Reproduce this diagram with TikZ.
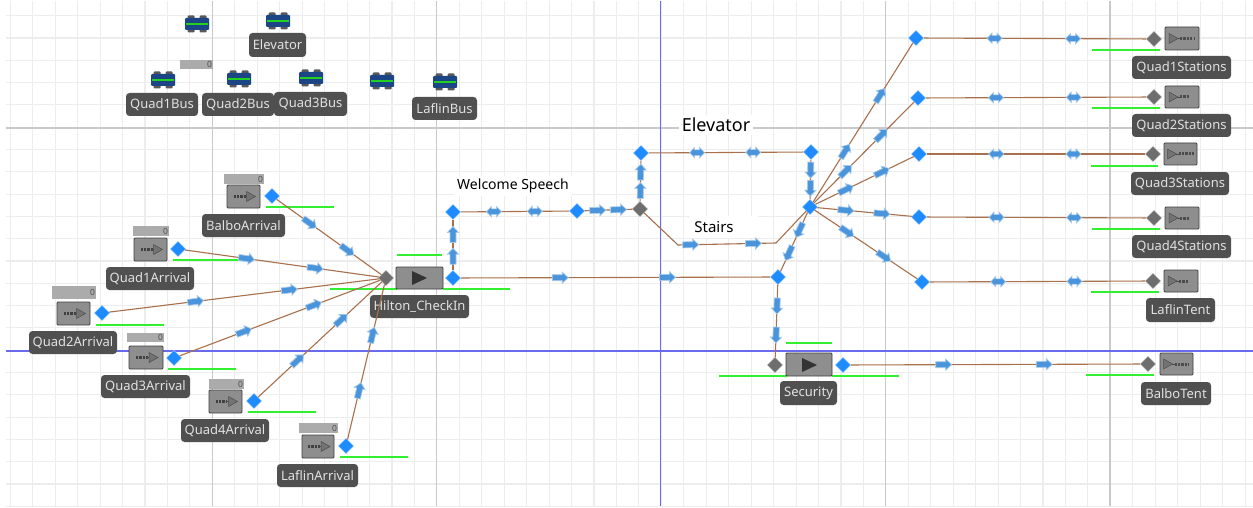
\documentclass[tikz,border=0pt]{standalone}
\usepackage{fontspec}
\setmainfont{Noto Sans}
\usetikzlibrary{shapes.geometric,decorations.markings}
\definecolor{gridminor}{HTML}{EDEDED}
\definecolor{gridmajor}{HTML}{C9C9C9}
\definecolor{axisblue}{HTML}{6A6AEE}
\definecolor{linkbrown}{HTML}{A8704C}
\definecolor{nodeblue}{HTML}{1E8CFF}
\definecolor{nodegray}{HTML}{6E6E6E}
\definecolor{flowblue}{HTML}{4A94DC}
\definecolor{flowedge}{HTML}{A8CBEA}
\definecolor{labelbg}{HTML}{505050}
\definecolor{labeltx}{HTML}{E2E2E2}
\definecolor{boxfill}{HTML}{8E8E8E}
\definecolor{barfill}{HTML}{ABABAB}
\definecolor{busblue}{HTML}{1B4585}
\definecolor{busgreen}{HTML}{22D022}
\definecolor{statgreen}{HTML}{30F030}
\tikzset{
  x=1pt,y=-1pt,
  bluenode/.style={diamond,aspect=1,fill=nodeblue,draw=white!70!nodeblue,line width=.4pt,minimum size=15.5pt,inner sep=0pt},
  graynode/.style={diamond,aspect=1,fill=nodegray,draw=white!60!nodegray,line width=.4pt,minimum size=15.5pt,inner sep=0pt},
  link/.style={draw=linkbrown,line width=1.1pt},
  statline/.style={draw=statgreen,line width=1.4pt},
  tag/.style={fill=labelbg,rounded corners=3.5pt,text=labeltx,inner sep=0pt,font=\fontsize{13}{15}\selectfont},
  boxnode/.style={draw=black!75,fill=boxfill,line width=.9pt,rounded corners=1pt,inner sep=0pt},
  barnode/.style={fill=barfill,inner sep=0pt,text=black!70,font=\fontsize{8.5}{9}\selectfont,align=right},
  caption/.style={fill=white,inner sep=3pt,text=black},
}
\newcommand\ETag[6]{\node[tag,minimum width={(#4-#2)*1pt},minimum height={(#5-#3)*1pt}] (#1) at ({(#2+#4)/2},{(#3+#5)/2}) {#6};}
\newcommand\EBox[5]{\node[boxnode,minimum width={(#4-#2)*1pt},minimum height={(#5-#3)*1pt}] (#1) at ({(#2+#4)/2},{(#3+#5)/2}) {};}
\newcommand\ECount[5]{\node[barnode,minimum width={(#4-#2)*1pt},minimum height={(#5-#3)*1pt},text width={(#4-#2-2)*1pt}] (#1) at ({(#2+#4)/2},{(#3+#5)/2}) {0};}
\newcommand\EStat[3]{\draw[statline] (#1,#3) -- (#2,#3);}
\newcommand\SingleMark{\fill[flowblue,draw=flowedge,line width=.7pt] (-8,-3) -- (2,-3) -- (2,-5.6) -- (8,0) -- (2,5.6) -- (2,3) -- (-8,3) -- cycle;}
\newcommand\DoubleMark{\fill[flowblue,draw=flowedge,line width=.7pt] (-7.5,0) -- (-2.5,-5.2) -- (-2.5,-2.8) -- (2.5,-2.8) -- (2.5,-5.2) -- (7.5,0) -- (2.5,5.2) -- (2.5,2.8) -- (-2.5,2.8) -- (-2.5,5.2) -- cycle;}
\newcommand\EMk[4]{\path[postaction={decorate,decoration={markings,mark=at position #3 with {#4}}}] (#1.center) -- (#2.center);}
\newcommand\EOne[2]{\draw[link] (#1) -- (#2); \EMk{#1}{#2}{.33}{\SingleMark} \EMk{#1}{#2}{.66}{\SingleMark}}
\newcommand\ETwo[2]{\draw[link] (#1) -- (#2); \EMk{#1}{#2}{.33}{\DoubleMark} \EMk{#1}{#2}{.66}{\DoubleMark}}
\newcommand\SrcIcon[3]{\draw[black!75,line width=3pt,dash pattern=on 2.2pt off 1.2pt] ({#1-10},#2) -- +(#3,0);
  \draw[black!70,line width=.8pt] ({#1+1},#2) -- ({#1+4},#2);
  \fill[black!55,draw=black!70,line width=.5pt] ({#1+3},{#2-5}) -- ({#1+12},#2) -- ({#1+3},{#2+5}) -- cycle;}
\newcommand\SnkIcon[3]{\fill[black!55,draw=black!70,line width=.5pt] ({#1-13},{#2-5}) -- ({#1-4},#2) -- ({#1-13},{#2+5}) -- cycle;
  \draw[black!70,line width=.8pt] ({#1-5},#2) -- ({#1-2},#2);
  \draw[black!70,line width=3pt,dash pattern=on 2.2pt off 1.2pt] ({#1-2},#2) -- +(#3,0);}
\newcommand\EPlay[2]{\fill[black!80] ({#1-7},{#2-7}) -- ({#1+8},#2) -- ({#1-7},{#2+7}) -- cycle;}
\newcommand\EBus[2]{
  \fill[black!65,rounded corners=1pt] ({#1-9.5},{#2-8.5}) rectangle ({#1-2.5},{#2+8.5});
  \fill[black!65,rounded corners=1pt] ({#1+2.5},{#2-8.5}) rectangle ({#1+9.5},{#2+8.5});
  \fill[busblue,rounded corners=1pt] ({#1-12},{#2-6}) rectangle ({#1+12},{#2+6});
  \draw[busgreen,line width=1.1pt] ({#1-11},#2) -- ({#1+11},#2);}
\begin{document}
\begin{tikzpicture}
\useasboundingbox (0,0) rectangle (1253,508);
\fill[white] (0,0) rectangle (1253,508);
% grid
\foreach \k in {0,...,55}{\pgfmathsetmacro\xx{10.3+22.45*\k}\draw[gridminor,line width=1.1pt] (\xx,1) -- (\xx,506);}
\foreach \k in {0,...,22}{\pgfmathsetmacro\yy{15.7+22.3*\k}\draw[gridminor,line width=1.1pt] (6,\yy) -- (1253,\yy);}
\foreach \xx in {212.3,436.8,885.3,1110}{\draw[gridmajor,line width=1.2pt] (\xx,1) -- (\xx,506);}
\draw[gridmajor,line width=1.2pt] (6,128) -- (1253,128);
\draw[axisblue,line width=1.3pt] (660.5,1) -- (660.5,506);
\draw[axisblue,line width=1.3pt] (6,351) -- (1253,351);
% captions
\node[caption,font=\fontsize{14}{16}\selectfont,yshift=-2pt] (cWelcome) at (513,184) {Welcome Speech};
\node[caption,font=\fontsize{18}{20}\selectfont] (cElevator) at (716,125) {Elevator};
\node[caption,font=\fontsize{15}{17}\selectfont,minimum width=68pt,minimum height=22pt] (cStairs) at (724,227) {\hspace*{-20pt}Stairs};
% buses
\EBus{197}{24}\EBus{278}{21}\EBus{163}{80}\EBus{239}{79}\EBus{311}{78}\EBus{382}{81}\EBus{445}{82}
\ECount{barTop}{180}{60}{213}{69}
\ETag{tElevator}{249}{33}{306}{57}{Elevator}
\ETag{tQ1B}{126}{93}{198}{116}{Quad1Bus}
\ETag{tQ2B}{202}{93}{274}{116}{Quad2Bus}
\ETag{tQ3B}{274}{92}{347}{116}{Quad3Bus}
\ETag{tLB}{412}{97}{477}{120}{LaflinBus}
% status lines
\EStat{266}{334}{207}\EStat{173}{241}{260}\EStat{96}{164}{325}\EStat{168}{236}{369}\EStat{248}{316}{412}\EStat{340}{408}{457}
\EStat{397}{442}{255}\EStat{330}{397}{289}\EStat{443}{510}{289}
\EStat{786}{832}{343}\EStat{719}{787}{376}\EStat{832}{899}{376}
\EStat{1092}{1160}{50}\EStat{1092}{1160}{108}\EStat{1091}{1158}{166}\EStat{1092}{1160}{229}\EStat{1091}{1159}{292}\EStat{1086}{1154}{375}
% arrivals
\ECount{barBalbo}{224}{174}{264}{184}\EBox{bBalbo}{227}{185}{260}{208}\SrcIcon{243.5}{196.5}{12}\ETag{tBalbo}{202}{214}{285}{237}{BalboArrival}
\ECount{barQ1}{133}{226}{169}{236}\EBox{bQ1}{134}{238}{167}{261}\SrcIcon{150.5}{249.5}{14}\ETag{tQ1}{106}{267}{194}{290}{Quad1Arrival}
\ECount{barQ2}{52}{286}{96}{299}\EBox{bQ2}{57}{302}{90}{325}\SrcIcon{73.5}{313.5}{14}\ETag{tQ2}{29}{331}{117}{354}{Quad2Arrival}
\ECount{barQ3}{127}{333}{164}{342}\EBox{bQ3}{129}{346}{163}{369}\SrcIcon{146}{357.5}{14}\ETag{tQ3}{101}{375}{190}{398}{Quad3Arrival}
\ECount{barQ4}{209}{379}{244}{389}\EBox{bQ4}{209}{390}{242}{413}\SrcIcon{225.5}{401.5}{11}\ETag{tQ4}{181}{419}{269}{442}{Quad4Arrival}
\ECount{barL}{299}{423}{338}{433}\EBox{bL}{302}{435}{334}{458}\SrcIcon{318}{446.5}{13}\ETag{tL}{277}{464}{358}{487}{LaflinArrival}
\node[bluenode] (oBalbo) at (272,196) {};
\node[bluenode] (oQ1) at (178,249) {};
\node[bluenode] (oQ2) at (102,313) {};
\node[bluenode] (oQ3) at (174,358) {};
\node[bluenode] (oQ4) at (254,401) {};
\node[bluenode] (oL) at (346,446) {};
% Hilton
\node[graynode] (iHilton) at (386,278) {};
\EBox{bHilton}{396}{267}{443}{289}\EPlay{419}{278}
\node[bluenode] (oHilton) at (453,278) {};
\ETag{tHilton}{370}{295}{469}{318}{Hilton\_CheckIn}
% middle nodes
\node[bluenode] (nUp) at (453,212) {};
\node[bluenode] (nSpeech) at (577,211) {};
\node[graynode] (nSplit) at (640,209) {};
\node[bluenode] (nE1) at (641,153) {};
\node[bluenode] (nE2) at (811,152) {};
\node[bluenode] (nHub) at (810,207) {};
\node[bluenode] (nJ) at (778,277) {};
\coordinate (c1) at (678,245);
\coordinate (c2) at (776,243);
% security
\node[graynode] (iSec) at (775,365) {};
\EBox{bSec}{786}{353}{832}{376}\EPlay{809}{365}
\node[bluenode] (oSec) at (843,365) {};
\ETag{tSec}{780}{381}{837}{405}{Security}
% stations
\node[bluenode] (d1) at (916,38) {};
\node[bluenode] (d2) at (918,98) {};
\node[bluenode] (d3) at (919,154) {};
\node[bluenode] (d4) at (919,217) {};
\node[bluenode] (d5) at (922,282) {};
\node[graynode] (s1) at (1154,39) {};
\node[graynode] (s2) at (1154,97) {};
\node[graynode] (s3) at (1153,154) {};
\node[graynode] (s4) at (1154,218) {};
\node[graynode] (s5) at (1153,281) {};
\node[graynode] (s6) at (1148,364) {};
\EBox{bS1}{1165}{27}{1199}{50}\SnkIcon{1182}{38.5}{14}\ETag{tS1}{1132}{56}{1231}{79}{Quad1Stations}
\EBox{bS2}{1165}{86}{1199}{108}\SnkIcon{1182}{97}{9}\ETag{tS2}{1132}{114}{1231}{137}{Quad2Stations}
\EBox{bS3}{1164}{143}{1197}{165}\SnkIcon{1180.5}{154}{15}\ETag{tS3}{1131}{172}{1229}{195}{Quad3Stations}
\EBox{bS4}{1165}{207}{1199}{229}\SnkIcon{1182}{218}{9}\ETag{tS4}{1132}{235}{1231}{258}{Quad4Stations}
\EBox{bS5}{1164}{270}{1198}{292}\SnkIcon{1181}{281}{9}\ETag{tS5}{1146}{298}{1215}{322}{LaflinTent}
\EBox{bS6}{1160}{353}{1193}{375}\SnkIcon{1176.5}{364}{14}\ETag{tS6}{1141}{382}{1211}{405}{BalboTent}
% connectors
\EOne{oBalbo}{iHilton}\EOne{oQ1}{iHilton}\EOne{oQ2}{iHilton}\EOne{oQ3}{iHilton}\EOne{oQ4}{iHilton}\EOne{oL}{iHilton}
\EOne{oHilton}{nUp}\ETwo{nUp}{nSpeech}\EOne{nSpeech}{nSplit}\EOne{nSplit}{nE1}\ETwo{nE1}{nE2}\EOne{nE2}{nHub}
\EOne{oHilton}{nJ}\EOne{nHub}{nJ}\EOne{nJ}{iSec}
\draw[link] (nSplit) -- (c1) -- (c2) -- (nHub);
\EMk{c1}{c2}{.13}{\SingleMark}\EMk{c1}{c2}{.77}{\SingleMark}
\EOne{nHub}{d1}\EOne{nHub}{d2}\EOne{nHub}{d3}\EOne{nHub}{d4}\EOne{nHub}{d5}
\ETwo{d1}{s1}\ETwo{d2}{s2}\ETwo{d3}{s3}\ETwo{d4}{s4}\ETwo{d5}{s5}
\EOne{oSec}{s6}
\end{tikzpicture}
\end{document}
